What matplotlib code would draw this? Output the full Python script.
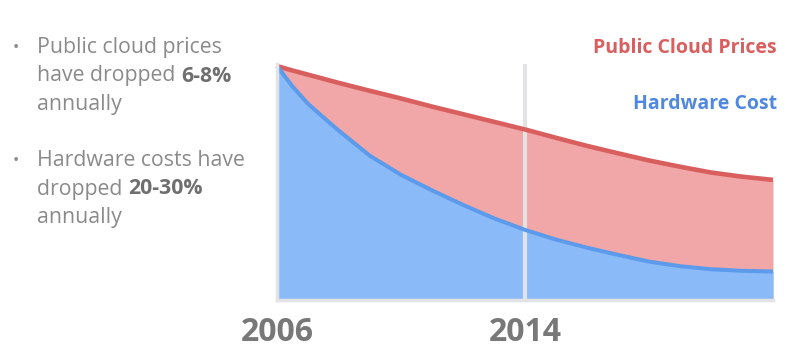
import matplotlib
matplotlib.use("Agg")
import matplotlib.pyplot as plt

# ---- data ----
years = [2006, 2006.5, 2007, 2007.5, 2008, 2009, 2010, 2011, 2012, 2013,
         2014, 2015, 2016, 2017, 2018, 2019, 2020, 2021, 2022]
cloud_prices = [100, 98.1, 96.3, 94.5, 92.7, 89.3, 86.0, 82.5, 79.2, 75.9,
                72.6, 69.0, 65.5, 62.3, 59.2, 56.5, 54.0, 52.2, 50.8]
hardware_cost = [100, 91.2, 83.7, 77.8, 72.0, 61.2, 53.0, 46.3, 40.0, 34.2,
                 29.2, 25.0, 21.5, 18.4, 15.5, 13.5, 12.2, 11.5, 11.2]
tick_years = [2006, 2014]
tick_labels = ["2006", "2014"]
series_labels = ["Public Cloud Prices", "Hardware Cost"]
bullets = [
    [[("Public cloud prices", False)],
     [("have dropped ", False), ("6-8%", True)],
     [("annually", False)]],
    [[("Hardware costs have", False)],
     [("dropped ", False), ("20-30%", True)],
     [("annually", False)]],
]

# ---- style ----
FONT = ["Open Sans", "DejaVu Sans"]
RED_LINE = "#d95f5e"
RED_FILL = "#f1a7a7"
BLUE_LINE = "#5c9bec"
BLUE_FILL = "#8bbaf8"
GRID = "#e3e3e6"
TXT = "#8a8a8a"
TXT_B = "#6f6f6f"

W, H = 807, 360
fig = plt.figure(figsize=(W / 100, H / 100), dpi=100)
fig.patch.set_facecolor("white")

ax_left, ax_right = 277, 773
ax_top, ax_bot = 64, 299.5
ax = fig.add_axes([ax_left / W, (H - ax_bot) / H, (ax_right - ax_left) / W,
                   (ax_bot - ax_top) / H])
ymin, ymax = -0.9, 100.9
ax.set_xlim(2006, 2022)
ax.set_ylim(ymin, ymax)

ax.fill_between(years, ymin, cloud_prices, color=RED_FILL, lw=0, zorder=1)
ax.fill_between(years, ymin, hardware_cost, color=BLUE_FILL, lw=0, zorder=2)
ax.axvline(2014, color=GRID, lw=3, zorder=3)
ax.plot(years, cloud_prices, color=RED_LINE, lw=3.3, zorder=4,
        solid_capstyle="butt", solid_joinstyle="round", clip_on=False)
ax.plot(years, hardware_cost, color=BLUE_LINE, lw=2.9, zorder=5,
        solid_capstyle="butt", solid_joinstyle="round", clip_on=False)

for s in ["top", "right"]:
    ax.spines[s].set_visible(False)
for s in ["left", "bottom"]:
    ax.spines[s].set_color(GRID)
    ax.spines[s].set_linewidth(2.5)
    ax.spines[s].set_zorder(6)
ax.set_yticks([])
ax.set_xticks(tick_years)
ax.set_xticklabels(tick_labels, family=FONT, fontweight="bold",
                   fontsize=23, color="#787878")
ax.tick_params(axis="x", length=0, pad=12)

# series labels
fig.text(777 / W, 1 - 48 / H, series_labels[0], ha="right", va="center",
         family=FONT, fontweight="bold", fontsize=14, color=RED_LINE)
fig.text(777 / W, 1 - 104 / H, series_labels[1], ha="right", va="center",
         family=FONT, fontweight="bold", fontsize=14, color="#4f88e0")

# bullet text
renderer = fig.canvas.get_renderer()
x0 = 37
block_y = [47, 160]
dy = 28.5
fs = 15.3
for b, block in enumerate(bullets):
    fig.text(13 / W, 1 - (block_y[b] + 1) / H, "•", ha="left", va="center",
             family=FONT, fontsize=12, color=TXT)
    for i, line in enumerate(block):
        y = block_y[b] + i * dy
        x = x0
        for txt, bold in line:
            t = fig.text(x / W, 1 - (y + 6) / H, txt, ha="left",
                         va="baseline", family=FONT, fontsize=fs,
                         fontweight="bold" if bold else "normal",
                         color=TXT_B if bold else TXT)
            x += t.get_window_extent(renderer).width

fig.savefig("out.png", dpi=100, facecolor="white")
